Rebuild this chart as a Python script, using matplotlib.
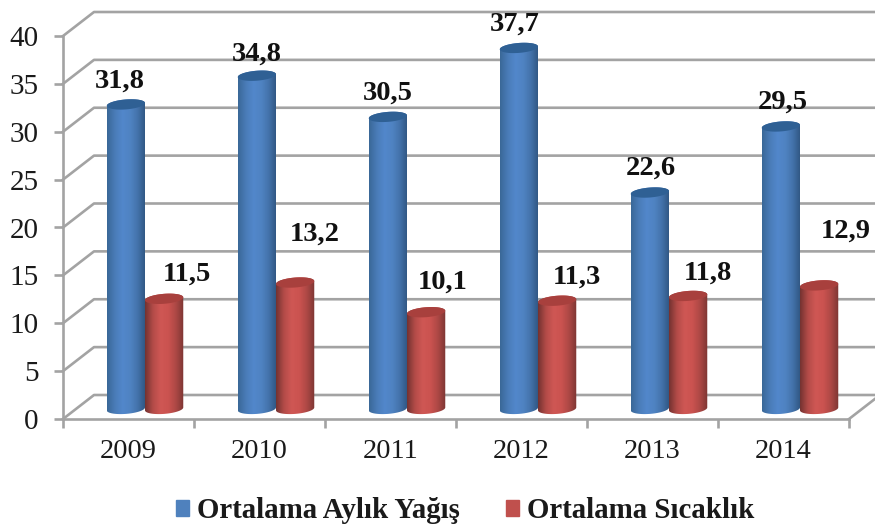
import matplotlib
matplotlib.use('Agg')
import matplotlib.pyplot as plt
import numpy as np
from matplotlib.colors import LinearSegmentedColormap
from matplotlib.patches import Patch, PathPatch, Polygon
from matplotlib.path import Path

years = ['2009', '2010', '2011', '2012', '2013', '2014']
yagis = [31.8, 34.8, 30.5, 37.7, 22.6, 29.5]
sicaklik = [11.5, 13.2, 10.1, 11.3, 11.8, 12.9]
y_ticks = [0, 5, 10, 15, 20, 25, 30, 35, 40]

# label offsets from the top of each cylinder, in pixels
yagis_dx = [-6, 0, 0, -4, 1, 2]
yagis_dy = [23, 22, 24, 24, 24, 24]
sicaklik_dx = [23, 20, 17, 20, 20, 27]
sicaklik_dy = [25, 48, 30, 24, 23, 54]

plt.rcParams['font.family'] = ['Liberation Serif', 'DejaVu Serif']

W, H = 875, 530
PX_X = 131.0            # pixels per category
PX_Y = 9.575            # pixels per y unit
DEPTH_X = 31 / PX_X     # depth shift of the back wall
DEPTH_Y = 24 / PX_Y
GRID = '#a3a3a3'

blue_cmap = LinearSegmentedColormap.from_list('b', ['#3a6898', '#4a7cb8', '#5287cb', '#4f83c2', '#4372aa', '#2f5580'])
red_cmap = LinearSegmentedColormap.from_list('r', ['#753331', '#b34b48', '#cf5754', '#cb5350', '#ad4845', '#7d3633'])


def cylinder(ax, x0, x1, value, cmap, top_color, z):
    # cylinder sits half way between the front plane and the back wall
    t = np.linspace(0, np.pi, 40)
    cx = (x0 + x1) / 2 + DEPTH_X / 2 + 1 / PX_X
    rx = (x1 - x0) / 2
    ry = 0.52
    tilt = 0.15
    base = DEPTH_Y / 2 - 0.2
    top = value + DEPTH_Y / 2 - 0.2
    ux = np.cos(t)

    # lower edge runs left to right, then back along the top ellipse
    low_x = cx - rx * ux
    low_y = base - ry * np.sin(t) - tilt * ux
    up_x = cx + rx * ux
    up_y = top + ry * np.sin(t) + tilt * ux
    verts = np.column_stack([np.r_[low_x, up_x], np.r_[low_y, up_y]])
    body = PathPatch(Path(np.vstack([verts, verts[0]])), transform=ax.transData, fc='none', ec='none')
    ax.add_patch(body)
    grad = np.linspace(0, 1, 64).reshape(1, -1)
    im = ax.imshow(grad, cmap=cmap, aspect='auto', extent=[cx - rx, cx + rx, base - ry - 0.5, top + ry + 0.5],
                   interpolation='bilinear', zorder=z, clip_on=True)
    im.set_clip_path(body)
    im.set_clip_on(True)

    # top cap
    t2 = np.linspace(0, 2 * np.pi, 80)
    cap = np.column_stack([cx + rx * np.cos(t2), top + ry * np.sin(t2) + tilt * np.cos(t2)])
    ax.add_patch(Polygon(cap, closed=True, fc=top_color, ec='none', zorder=z + 0.1, clip_on=False))
    return cx, top


fig = plt.figure(figsize=(W / 100, H / 100), dpi=100)
ax = fig.add_axes([63 / W, (H - 419) / H, 786 / W, 383 / H])

# back wall and side wall gridlines
for v in y_ticks:
    ax.plot([0, DEPTH_X, 6 + DEPTH_X], [v, v + DEPTH_Y, v + DEPTH_Y], color=GRID, lw=1.9, clip_on=False, zorder=1)
ax.plot([6, 6 + DEPTH_X], [0, DEPTH_Y], color=GRID, lw=1.9, clip_on=False, zorder=1)

# cylinders, the pair meets at the middle of the category
half = 0.292
for i in range(len(years)):
    mid = i + 0.5
    cx, top = cylinder(ax, mid - half, mid, yagis[i], blue_cmap, '#2f6094', 3 + i)
    ax.annotate(str(yagis[i]).replace('.', ','), (cx, top), xytext=(yagis_dx[i], yagis_dy[i]),
                textcoords='offset pixels', ha='center', va='center', fontsize=20.5, fontweight='bold',
                color='#111111', zorder=20, annotation_clip=False)
    cx, top = cylinder(ax, mid, mid + half, sicaklik[i], red_cmap, '#a8403d', 3.5 + i)
    ax.annotate(str(sicaklik[i]).replace('.', ','), (cx, top), xytext=(sicaklik_dx[i], sicaklik_dy[i]),
                textcoords='offset pixels', ha='center', va='center', fontsize=20.5, fontweight='bold',
                color='#111111', zorder=20, annotation_clip=False)

ax.set_xlim(0, 6)
ax.set_ylim(0, 40)
ax.patch.set_visible(False)

for s in ['top', 'right']:
    ax.spines[s].set_visible(False)
for s in ['left', 'bottom']:
    ax.spines[s].set_color(GRID)
    ax.spines[s].set_linewidth(1.9)
    ax.spines[s].set_zorder(2)

ax.set_yticks(y_ticks)
ax.set_xticks(range(7))
ax.set_xticklabels([])
ax.set_xticks(np.arange(6) + 0.5, labels=years, minor=True)
ax.tick_params(axis='both', which='major', color=GRID, width=1.9, length=6.5)
ax.tick_params(axis='y', which='major', labelsize=21, pad=11, labelcolor='#1a1a1a')
ax.tick_params(axis='x', which='minor', length=0, labelsize=20.5, pad=14.5, labelcolor='#1a1a1a')

handles = [Patch(color='#4f81bd', label='Ortalama Aylık Yağış'), Patch(color='#c0504d', label='Ortalama Sıcaklık')]
fig.legend(handles=handles, loc='center', bbox_to_anchor=(465 / W, (H - 511) / H), ncol=2, frameon=False,
           prop={'size': 20.8, 'weight': 'bold'}, handlelength=0.45, handleheight=0.45, handletextpad=0.28,
           columnspacing=1.6, labelcolor='#1a1a1a')

fig.savefig('out.png', dpi=100, facecolor='white')
